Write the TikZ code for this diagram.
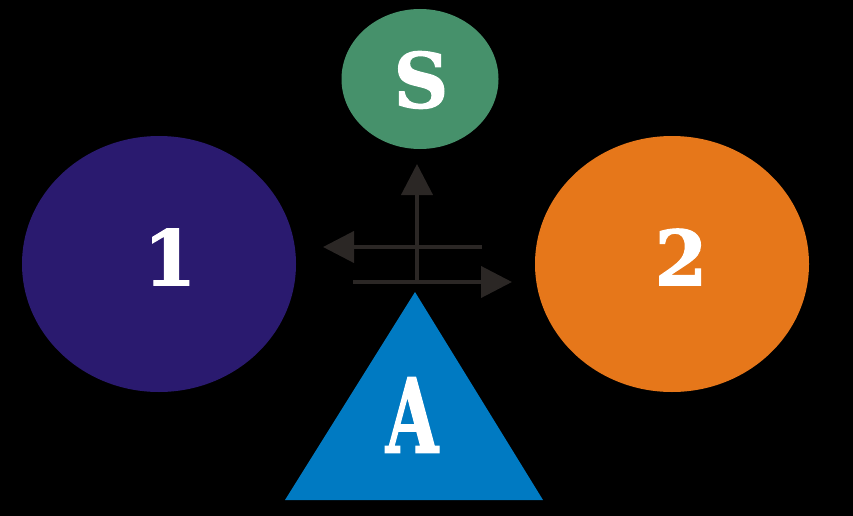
\documentclass[tikz,border=0pt]{standalone}
\usepackage{fontspec}
\newfontfamily\slab{DejaVu Serif}[BoldFeatures={FakeBold=1.6}]
\usetikzlibrary{arrows.meta,shapes.geometric}
\definecolor{bgc}{HTML}{000000}
\definecolor{indigo}{HTML}{2A1A6F}
\definecolor{orng}{HTML}{E6771A}
\definecolor{grn}{HTML}{46916B}
\definecolor{blu}{HTML}{007AC2}
\definecolor{arr}{HTML}{2B2725}
\begin{document}
\begin{tikzpicture}[x=1pt,y=-1pt,
  blob/.style={ellipse,inner sep=0pt},
  lbl/.style={text=white,font=\slab\bfseries\fontsize{76}{76}\selectfont},
  conn/.style={arr,line width=4pt,-{Triangle[length=31pt,width=31pt]}}]
\fill[bgc] (0,0) rectangle (853,516);
\useasboundingbox (0,0) rectangle (853,516);
\node[blob,fill=indigo,minimum width=274pt,minimum height=256pt] (one) at (159,264) {};
\node[blob,fill=orng,minimum width=274pt,minimum height=256pt] (two) at (672,264) {};
\node[blob,fill=grn,minimum width=157pt,minimum height=140pt] (s) at (420,79) {};
\fill[blu] (415,292) -- (543,500) -- (285,500) -- cycle;
\node[lbl] (l1) at (170,257) {1};
\node[lbl] (l2) at (681,257) {2};
\node[lbl] (ls) at (421,80) {S};
\node[lbl,font=\slab\bfseries\fontsize{103}{103}\selectfont] (la) at (412,415) {\scalebox{0.66}[1]{A}};
\coordinate (vs) at (417,282);
\coordinate (ve) at (417,164);
\coordinate (us) at (482,247);
\coordinate (ue) at (323,247);
\coordinate (ls0) at (353,282);
\coordinate (le) at (512,282);
\draw[conn] (vs) -- (ve);
\draw[conn] (us) -- (ue);
\draw[conn] (ls0) -- (le);
\end{tikzpicture}
\end{document}
